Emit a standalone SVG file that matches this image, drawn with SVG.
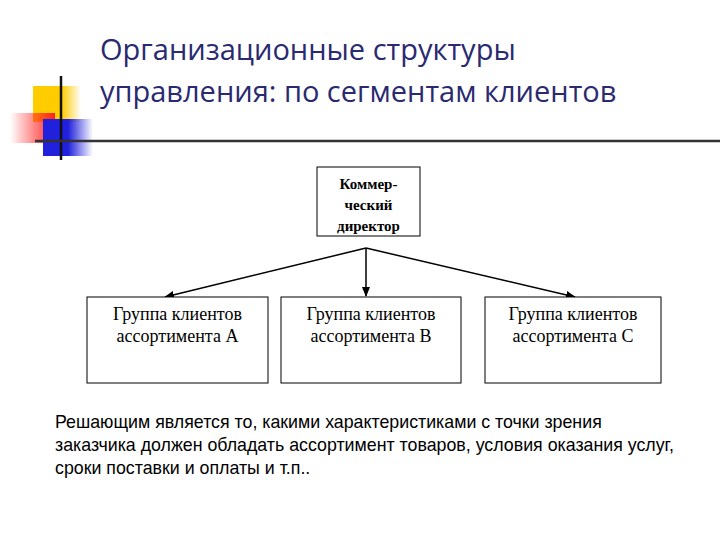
<svg xmlns="http://www.w3.org/2000/svg" width="720" height="540" viewBox="0 0 720 540">
<defs>
<marker id="ah" markerWidth="10" markerHeight="8" refX="9" refY="4" orient="auto" markerUnits="userSpaceOnUse"><path d="M0,0 L10,4 L0,8 Z" fill="#000"/></marker>
<linearGradient id="gy" x1="0" x2="1"><stop offset="0" stop-color="#ffcc00"/><stop offset="0.6" stop-color="#ffcc00"/><stop offset="1" stop-color="#ffcc00" stop-opacity="0"/></linearGradient>
<linearGradient id="gr" x1="1" x2="0"><stop offset="0" stop-color="#ff2020"/><stop offset="1" stop-color="#ff2020" stop-opacity="0"/></linearGradient>
<linearGradient id="gb" x1="0" x2="1"><stop offset="0" stop-color="#2020dd"/><stop offset="0.5" stop-color="#2020dd"/><stop offset="1" stop-color="#2020dd" stop-opacity="0"/></linearGradient>
</defs>
<style>
.box{fill:#fff;stroke:#000;stroke-width:1}
.t{font-family:"Liberation Serif",serif;font-size:18px;text-anchor:middle;fill:#000}
.b{font-weight:bold;font-size:15px}
.c{stroke:#000;stroke-width:1.5;fill:none;marker-end:url(#ah)}
</style>
<rect width="720" height="540" fill="#fff"/>
<g id="logo">
<rect x="33" y="86" width="48" height="36" fill="url(#gy)"/>
<rect x="10" y="113" width="45" height="30" fill="url(#gr)"/>
<rect x="43" y="119" width="50" height="37" fill="url(#gb)"/>
<line x1="61" y1="76" x2="61" y2="160" stroke="#111" stroke-width="2.5"/>
<line x1="35" y1="141" x2="720" y2="141" stroke="#333" stroke-width="2.5"/>
</g>
<g id="title" font-family="'Open Sans','DejaVu Sans',sans-serif" font-size="29" fill="#2a2a70">
<text x="100" y="60">Организационные структуры</text>
<text x="100" y="102">управления: по сегментам клиентов</text>
</g>
<g id="connectors">
<line class="c" x1="366" y1="248" x2="165" y2="297"/>
<line class="c" x1="366" y1="248" x2="366" y2="296"/>
<line class="c" x1="366" y1="248" x2="575" y2="297"/>
</g>
<g id="director"><rect class="box" x="317" y="167" width="103" height="69"/>
<text class="t b" x="368.5" y="189">Коммер-</text><text class="t b" x="368.5" y="210">ческий</text><text class="t b" x="368.5" y="231">директор</text></g>
<g id="groupA"><rect class="box" x="87" y="297" width="181" height="86"/>
<text class="t" x="177.5" y="320">Группа клиентов</text><text class="t" x="177.5" y="342">ассортимента А</text></g>
<g id="groupB"><rect class="box" x="281" y="297" width="180" height="86"/>
<text class="t" x="371" y="320">Группа клиентов</text><text class="t" x="371" y="342">ассортимента В</text></g>
<g id="groupC"><rect class="box" x="485" y="297" width="176" height="86"/>
<text class="t" x="573" y="320">Группа клиентов</text><text class="t" x="573" y="342">ассортимента С</text></g>
<g id="note" font-family="'Liberation Sans',Arial,sans-serif" font-size="17.8" fill="#000">
<text x="55" y="428">Решающим является то, какими характеристиками с  точки зрения</text>
<text x="55" y="451">заказчика должен обладать ассортимент товаров, условия оказания услуг,</text>
<text x="55" y="474">сроки поставки и оплаты и т.п..</text>
</g>
</svg>
